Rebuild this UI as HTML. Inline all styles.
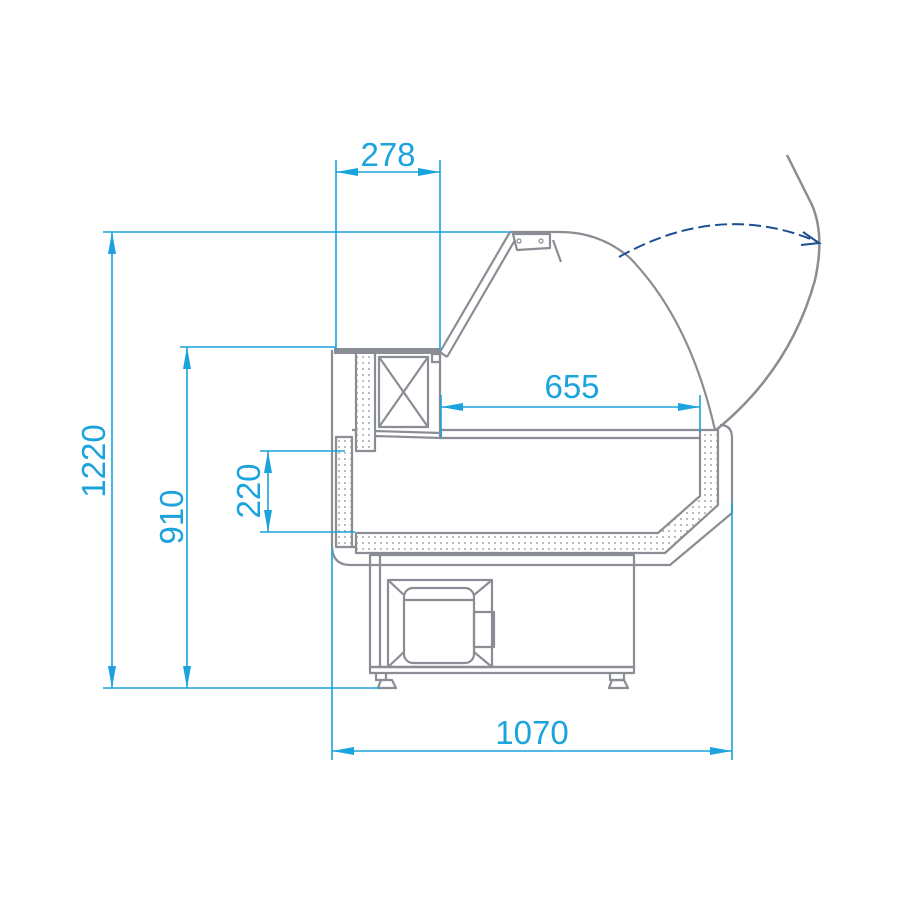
<!DOCTYPE html>
<html><head><style>html,body{margin:0;padding:0;background:#fff}svg{display:block}</style></head>
<body>
<svg width="900" height="900" viewBox="0 0 900 900" xmlns="http://www.w3.org/2000/svg">
<defs>
<pattern id="dots" width="6" height="6" patternUnits="userSpaceOnUse">
<circle cx="3" cy="3" r="0.9" fill="#8a8d94"/>
</pattern>
</defs>
<g fill="none" stroke="#8a8d94" stroke-width="2.2" stroke-linejoin="round">
<!-- outer shell -->
<path d="M332,350 L332,545 Q332,565 350,565 L670,565 L732,513 L732,438 Q732,425 720,425"/>
<!-- insulation -->
<path d="M356,533 L658,533 L700,496 L700,430 L718,430 L718,505 L665,553 L356,553 Z" fill="url(#dots)"/>
<path d="M336,437 L352,437 L352,547 L336,547 Z" fill="url(#dots)"/>
<path d="M352,430 L356,430 L356,437 M352,547 L356,547"/>
<path d="M356,352 L375,352 L375,451 L356,451 Z" fill="url(#dots)"/>
<!-- top plate -->
<rect x="334" y="348" width="106" height="6" fill="#8a8d94" stroke="none"/>
<!-- box with X -->
<rect x="379" y="357" width="49" height="70"/>
<path d="M379,357 L428,427 M428,357 L379,427"/>
<path d="M375,431 L441,433 L441,438 L375,436"/>
<path d="M432,354 L440,354 L440,362 L432,362 Z"/>
<path d="M440,354 L440,438"/>
<!-- floor shelf -->
<path d="M441,430 L700,430 M441,438 L700,438"/>
<!-- glass -->
<path d="M440,352 L510,232 M447,357 L515,240 M440,352 L447,357"/>
<path d="M510,232 L560,232 Q600,232 630,258 Q690,320 715,430"/>
<path d="M513,234 L550,234 L550,248 L517,250 Z"/>
<circle cx="519" cy="241" r="2" stroke-width="1.2"/><circle cx="541" cy="241" r="2" stroke-width="1.2"/>
<path d="M553,240 L561,262"/>
<!-- open glass -->
<path d="M716,430 Q790,370 815,280 Q825,235 812,205 L787,155" stroke-width="2.5"/>
<!-- base -->
<rect x="370" y="555" width="264" height="112"/>
<path d="M380,555 L380,667"/>
<path d="M370,667 L634,667 L634,673 L370,673 Z"/>
<rect x="388" y="580" width="104" height="87"/>
<rect x="404" y="588" width="70" height="75" rx="9"/>
<path d="M404,600 L474,600 M388,580 L404,595 M492,580 L474,595 M388,667 L404,652 M492,667 L474,652"/>
<rect x="474" y="612" width="20" height="35"/>
<path d="M376,673 L376,680 L386,680 L386,673 M610,673 L610,680 L624,680 L624,673"/>
<path d="M381,680 L392,680 L396,688 L378,688 Z M612,680 L624,680 L628,688 L609,688 Z"/>
</g>
<!-- dashed arrow -->
<path d="M619,257 Q720,200 818,242" fill="none" stroke="#1c4f8f" stroke-width="2" stroke-dasharray="12,5"/>
<path d="M803,232 L819,243 L801,245" fill="none" stroke="#1c4f8f" stroke-width="2"/>
<!-- dimensions -->
<g stroke="#1aa3dc" stroke-width="1.6" fill="none">
<path d="M336,160 L336,350 M440,160 L440,350 M336,172 L440,172"/>
<path d="M103,232 L510,232 M103,688 L380,688 M112,232 L112,688"/>
<path d="M180,347 L336,347 M187,347 L187,688"/>
<path d="M260,451 L345,451 M260,532 L355,532 M268,451 L268,532"/>
<path d="M441,395 L441,437 M700,395 L700,432 M441,407 L700,407"/>
<path d="M332,548 L332,760 M732,503 L732,760 M332,751 L732,751"/>
</g>
<g fill="#1aa3dc">
<path d="M336,172 L358,168 L358,176 Z M440,172 L418,168 L418,176 Z"/>
<path d="M112,232 L108,254 L116,254 Z M112,688 L108,666 L116,666 Z"/>
<path d="M187,347 L183,369 L191,369 Z M187,688 L183,666 L191,666 Z"/>
<path d="M268,451 L264,473 L272,473 Z M268,532 L264,510 L272,510 Z"/>
<path d="M441,407 L463,403 L463,411 Z M700,407 L678,403 L678,411 Z"/>
<path d="M332,751 L354,747 L354,755 Z M732,751 L710,747 L710,755 Z"/>
</g>
<g fill="#1aa3dc" font-family="Liberation Sans, sans-serif" font-size="33" text-anchor="middle">
<text x="388" y="166">278</text>
<text x="572" y="398">655</text>
<text x="532" y="744">1070</text>
<text transform="translate(105,461) rotate(-90)">1220</text>
<text transform="translate(183,517) rotate(-90)">910</text>
<text transform="translate(260,491) rotate(-90)">220</text>
</g>
</svg>
</body></html>
